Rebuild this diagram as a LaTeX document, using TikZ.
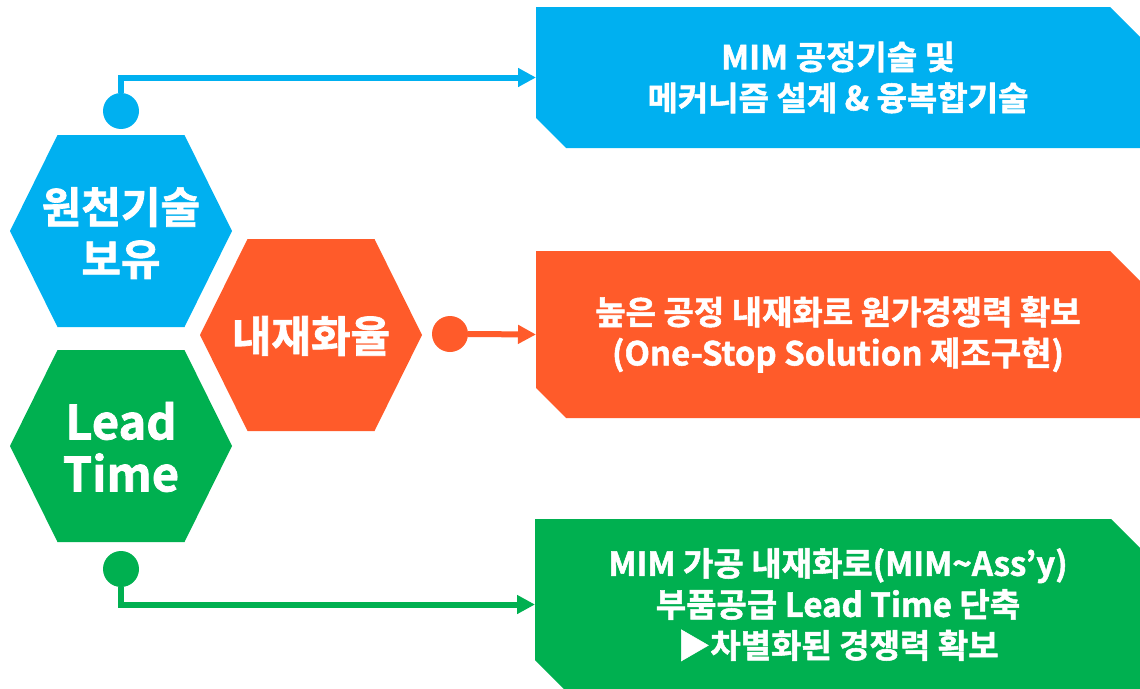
\documentclass[tikz,border=0pt]{standalone}
\usepackage{fontspec}
\setmainfont{Noto Sans CJK KR}[BoldFont={Noto Sans CJK KR Bold}, BoldFeatures={FakeBold=1.6}]
\usetikzlibrary{arrows.meta,shapes.misc}
\definecolor{cblue}{RGB}{0,176,240}
\definecolor{corange}{RGB}{255,91,42}
\definecolor{cgreen}{RGB}{0,176,80}
\begin{document}
\begin{tikzpicture}[x=1pt,y=-1pt,
  hexfill/.style={fill=#1},
  hextext/.style={text=white, font=\bfseries\fontsize{43}{52}\selectfont, align=center, inner sep=0pt},
  box/.style={chamfered rectangle, chamfered rectangle corners={north east,south west},
    chamfered rectangle sep=15pt, fill=#1, inner sep=0pt, outer sep=0pt,
    minimum width=604pt, text=white, align=center,
    font=\bfseries\fontsize{33}{41}\selectfont},
  dot/.style={circle, fill=#1, inner sep=0pt, outer sep=0pt, minimum size=36pt},
  conn/.style={draw=#1, line width=6pt, -{Triangle[length=18pt,width=18pt]}}
]
\useasboundingbox (0,0) rectangle (1140,688);

% hexagons
\fill[hexfill=cblue] (121,231) ++(-111,0) -- ++(47.5,-96) -- ++(127,0) -- ++(47.5,96) -- ++(-47.5,96) -- ++(-127,0) -- cycle;
\fill[hexfill=corange] (311,335) ++(-111,0) -- ++(47.5,-96) -- ++(127,0) -- ++(47.5,96) -- ++(-47.5,96) -- ++(-127,0) -- cycle;
\fill[hexfill=cgreen] (121,446) ++(-111,0) -- ++(47.5,-96) -- ++(127,0) -- ++(47.5,96) -- ++(-47.5,96) -- ++(-127,0) -- cycle;

\node[hextext] (h1) at (121,233) {원천기술\\보유};
\node[hextext] (h2) at (311,336) {내재화율};
\node[hextext, font=\bfseries\fontsize{47}{52}\selectfont] (h3) at (121,447) {Lead\\Time};

% boxes
\node[box=cblue, minimum height=141pt] (b1) at (838,77.5) {MIM 공정기술 및\\메커니즘 설계 \& 융복합기술};
\node[box=corange, minimum height=167pt] (b2) at (838,334.5) {높은 공정 내재화로 원가경쟁력 확보\\(One-Stop Solution 제조구현)};
\node[box=cgreen, minimum width=606pt, minimum height=171pt] (b3) at (838,604.5) {MIM 가공 내재화로(MIM\textasciitilde Ass’y)\\부품공급 Lead Time 단축\\▶차별화된 경쟁력 확보};

% dots
\node[dot=cblue] (c1) at (121,111) {};
\node[dot=corange] (c2) at (450,334) {};
\node[dot=cgreen] (c3) at (121,569) {};

% connectors
\draw[conn=cblue] (c1.north) |- (b1.west);
\draw[conn=corange] (c2.east) -- (b2.west);
\draw[conn=cgreen] (c3.south) |- (b3.west);
\end{tikzpicture}
\end{document}
